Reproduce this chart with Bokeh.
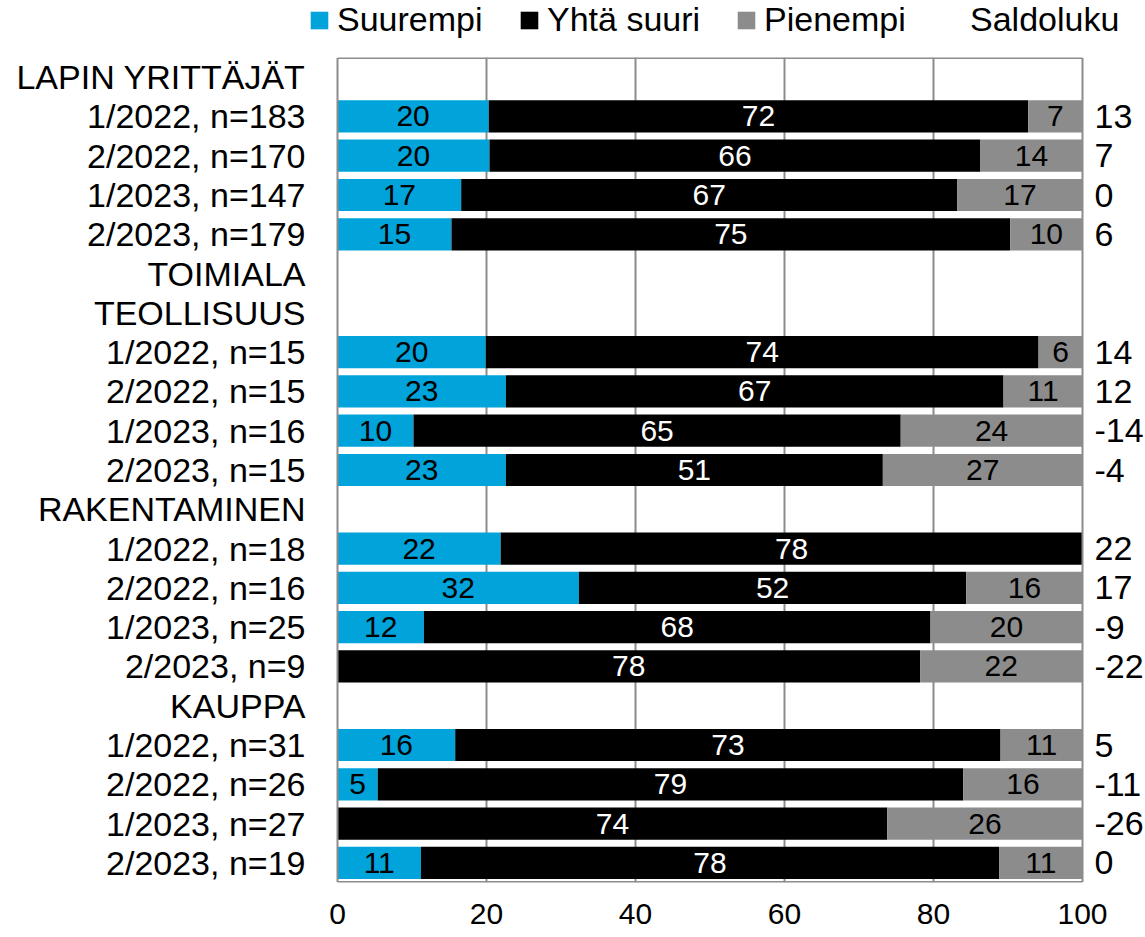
from bokeh.plotting import figure
from bokeh.layouts import column
from bokeh.models import (ColumnDataSource, FactorRange, Range1d, FixedTicker,
                          Legend, LegendItem)
from bokeh.embed import file_html
from bokeh.resources import INLINE
from bokeh.core.properties import value

FONT = "Liberation Sans"

categories = ["LAPIN YRITTÄJÄT", "1/2022, n=183", "2/2022, n=170", "1/2023, n=147", "2/2023, n=179",
              "TOIMIALA", "TEOLLISUUS", "1/2022, n=15", "2/2022, n=15", "1/2023, n=16", "2/2023, n=15",
              "RAKENTAMINEN", "1/2022, n=18", "2/2022, n=16", "1/2023, n=25", "2/2023, n=9",
              "KAUPPA", "1/2022, n=31", "2/2022, n=26", "1/2023, n=27", "2/2023, n=19"]

bar_rows = ["1/2022, n=183", "2/2022, n=170", "1/2023, n=147", "2/2023, n=179",
            "1/2022, n=15", "2/2022, n=15", "1/2023, n=16", "2/2023, n=15",
            "1/2022, n=18", "2/2022, n=16", "1/2023, n=25", "2/2023, n=9",
            "1/2022, n=31", "2/2022, n=26", "1/2023, n=27", "2/2023, n=19"]

suurempi = [20.3, 20.4, 16.6, 15.3, 19.9, 22.6, 10.2, 22.6, 21.9, 32.4, 11.6, 0.0, 15.8, 5.4, 0.0, 11.2]
yhta_suuri = [72.4, 65.9, 66.6, 75.0, 74.2, 66.8, 65.4, 50.6, 78.1, 52.0, 68.0, 78.2, 73.2, 78.6, 73.8, 77.6]
pienempi = [7.3, 13.7, 16.8, 9.7, 5.9, 10.6, 24.4, 26.8, 0.0, 15.6, 20.4, 21.8, 11.0, 16.0, 26.2, 11.2]
saldoluku = [13, 7, 0, 6, 14, 12, -14, -4, 22, 17, -9, -22, 5, -11, -26, 0]

series_names = ["Suurempi", "Yhtä suuri", "Pienempi"]
series_colors = ["#00A3DA", "#000000", "#8C8C8C"]
label_colors = ["#000000", "#FFFFFF", "#000000"]
x_ticks = [0, 20, 40, 60, 80, 100]

W = 1145
PX_PER_UNIT = 7.45          # 745 px for 0..100
FRAME_LEFT = 306            # frame begins just right of the category labels
ZERO_PX = 337               # where 0 sits
x_start = -(ZERO_PX - FRAME_LEFT) / PX_PER_UNIT
x_end = x_start + (W - FRAME_LEFT) / PX_PER_UNIT
GRID = "#8C8C8C"

# ---------------- legend strip ----------------
LEG_H = 50
lf = figure(width=W, height=LEG_H, x_range=Range1d(0, 1), y_range=Range1d(0, 1),
            output_backend="svg", toolbar_location=None,
            x_axis_location=None, y_axis_location=None,
            min_border_left=FRAME_LEFT, min_border_right=0, min_border_top=0, min_border_bottom=0)
lf.outline_line_color = None
lf.xgrid.visible = False
lf.ygrid.visible = False

legend_pos = [308, 518, 735]
for name, col, xpos in zip(series_names, series_colors, legend_pos):
    dummy = lf.hbar(y=[5], left=[0], right=[0], height=0.5, fill_color=col, line_color=None)
    lf.add_layout(Legend(items=[LegendItem(label=name, renderers=[dummy])],
                         location=(xpos - FRAME_LEFT, 11),
                         glyph_width=22, glyph_height=22, label_standoff=7,
                         padding=0, margin=0, border_line_color=None, background_fill_alpha=0,
                         label_text_font=FONT, label_text_font_size="34px",
                         label_text_color="#000000"))
dummy = lf.hbar(y=[5], left=[0], right=[0], height=0.5, fill_alpha=0, line_alpha=0)
lf.add_layout(Legend(items=[LegendItem(label="Saldoluku", renderers=[dummy])],
                     location=(970 - FRAME_LEFT, 11),
                     glyph_width=0, glyph_height=22, label_standoff=0,
                     padding=0, margin=0, border_line_color=None, background_fill_alpha=0,
                     label_text_font=FONT, label_text_font_size="34px",
                     label_text_color="#000000"))

# ---------------- main chart ----------------
p = figure(width=W, height=937 - LEG_H,
           x_range=Range1d(x_start, x_end),
           y_range=FactorRange(factors=categories[::-1]),
           output_backend="svg", toolbar_location=None,
           min_border_left=FRAME_LEFT, min_border_right=0,
           min_border_top=57 - LEG_H, min_border_bottom=55)
p.outline_line_color = None

p.xaxis.ticker = FixedTicker(ticks=x_ticks)
p.xaxis.axis_line_color = None
p.xaxis.major_tick_line_color = None
p.xaxis.major_tick_out = 0
p.xaxis.minor_tick_line_color = None
p.xaxis.major_label_text_font = FONT
p.xaxis.major_label_text_font_size = "30px"
p.xaxis.major_label_text_color = "#000000"
p.xaxis.major_label_standoff = 21

p.yaxis.axis_line_color = None
p.yaxis.major_tick_line_color = None
p.yaxis.major_tick_out = 0
p.yaxis.minor_tick_line_color = None
p.yaxis.major_label_text_font = FONT
p.yaxis.major_label_text_font_size = "34px"
p.yaxis.major_label_text_color = "#000000"
p.yaxis.major_label_standoff = 1

p.xgrid.ticker = FixedTicker(ticks=x_ticks[1:-1])
p.xgrid.grid_line_color = GRID
p.xgrid.grid_line_width = 2
p.ygrid.grid_line_color = None

series = [suurempi, yhta_suuri, pienempi]
left = [0.0] * len(bar_rows)
lx, ly, lt, lc = [], [], [], []
for vals, name, col, tcol in zip(series, series_names, series_colors, label_colors):
    right = [a + b for a, b in zip(left, vals)]
    src = ColumnDataSource(dict(y=bar_rows, left=left, right=right))
    p.hbar(y="y", left="left", right="right", height=0.82, source=src,
           fill_color=col, line_color=None)
    for row, l0, r0, v in zip(bar_rows, left, right, vals):
        if round(v) > 0:
            lx.append((l0 + r0) / 2)
            ly.append(row)
            lt.append(str(round(v)))
            lc.append(tcol)
    left = right

# plot-area box (0..100 by all rows)
top = (categories[0], 0.49)
bottom = (categories[-1], -0.49)
p.segment(x0=[x_ticks[0], x_ticks[-1], x_ticks[0], x_ticks[0]],
          x1=[x_ticks[0], x_ticks[-1], x_ticks[-1], x_ticks[-1]],
          y0=[top, top, top, bottom], y1=[bottom, bottom, top, bottom],
          line_color=GRID, line_width=2)

lsrc = ColumnDataSource(dict(x=lx, y=ly, text=lt, color=lc))
p.text(x="x", y="y", text="text", source=lsrc, text_color="color",
       text_align="center", text_baseline="middle",
       text_font=value(FONT), text_font_size="30px")

ssrc = ColumnDataSource(dict(x=[x_ticks[-1]] * len(bar_rows), y=bar_rows,
                             text=[str(s) for s in saldoluku]))
p.text(x="x", y="y", text="text", source=ssrc, x_offset=12,
       text_align="left", text_baseline="middle",
       text_font=value(FONT), text_font_size="34px", text_color="#000000")

layout = column(lf, p, spacing=0)
open("out.html", "w").write(file_html(layout, INLINE))
